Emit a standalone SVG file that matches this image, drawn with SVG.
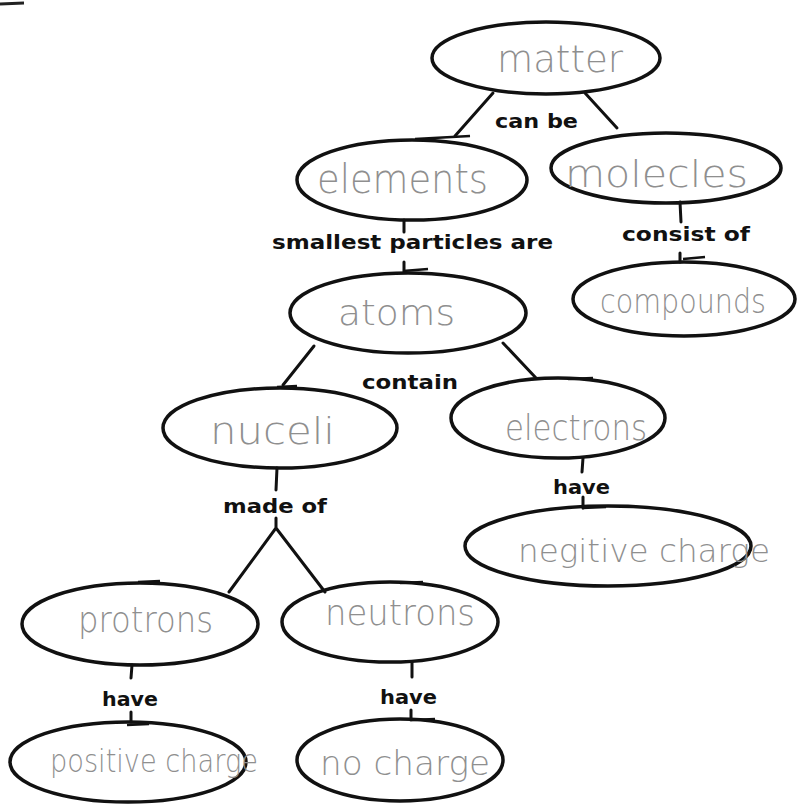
<svg xmlns="http://www.w3.org/2000/svg" width="800" height="805" viewBox="0 0 800 805">
<style>
.n{fill:none;stroke:#111;stroke-width:3.5}
.c{stroke:#111;stroke-width:3;fill:none;stroke-linecap:round}
.d{stroke:#111;stroke-width:2.5;fill:none}
.l{font-family:"DejaVu Sans",Verdana,sans-serif;font-weight:bold;font-size:20px;fill:#111}
.h{font-family:"DejaVu Sans","Liberation Sans",sans-serif;font-weight:200;fill:#8f8f8f}
</style>
<rect width="800" height="805" fill="#fff"/>
<path d="M0 4 L24 3" stroke="#222" stroke-width="3"/>
<g id="connectors">
<path class="c" d="M493 93 L455 136"/>
<path class="c" d="M585 93 L617 128"/>
<path class="c" d="M404 220 L404 232 M404 262 L404 272"/>
<path class="d" d="M403 271 L428 269"/>
<path class="d" d="M415 139 L470 136"/>
<path class="c" d="M680 202 L681 222 M680 253 L680 262"/>
<path class="d" d="M683 259 L705 257"/>
<path class="c" d="M314 346 L283 385"/>
<path class="d" d="M277 387 L297 386"/>
<path class="c" d="M503 343 L536 378"/>
<path class="d" d="M568 379 L593 378"/>
<path class="c" d="M277 468 L276 490 M276 518 L276 528 L229 592 M276 528 L325 592"/>
<path class="c" d="M583 458 L582 472 M583 497 L583 508"/>
<path class="d" d="M582 508 L606 507"/>
<path class="d" d="M138 582 L160 581"/>
<path class="d" d="M400 583 L423 582"/>
<path class="c" d="M132 665 L131 678 M131 712 L131 722"/>
<path class="d" d="M127 725 L149 724"/>
<path class="c" d="M412 662 L412 677 M411 710 L411 720"/>
<path class="d" d="M412 720 L435 719"/>
</g>
<g id="labels">
<text class="l" x="495" y="128" textLength="83" lengthAdjust="spacingAndGlyphs">can be</text>
<text class="l" x="272" y="249" textLength="281" lengthAdjust="spacingAndGlyphs">smallest particles are</text>
<text class="l" x="622" y="241" textLength="128" lengthAdjust="spacingAndGlyphs">consist of</text>
<text class="l" x="362" y="389" textLength="96" lengthAdjust="spacingAndGlyphs">contain</text>
<text class="l" x="223" y="513" textLength="104" lengthAdjust="spacingAndGlyphs">made of</text>
<text class="l" x="553" y="494" textLength="57" lengthAdjust="spacingAndGlyphs">have</text>
<text class="l" x="102" y="706" textLength="56" lengthAdjust="spacingAndGlyphs">have</text>
<text class="l" x="380" y="704" textLength="57" lengthAdjust="spacingAndGlyphs">have</text>
</g>
<g id="matter"><ellipse class="n" cx="546" cy="58" rx="114" ry="36"/><text class="h" x="497" y="72" font-size="38" textLength="126" lengthAdjust="spacingAndGlyphs">matter</text></g>
<g id="elements"><ellipse class="n" cx="412" cy="180" rx="115" ry="40"/><text class="h" x="317" y="193" font-size="40" textLength="171" lengthAdjust="spacingAndGlyphs">elements</text></g>
<g id="molecles"><ellipse class="n" cx="666" cy="168" rx="115" ry="35"/><text class="h" x="565" y="187" font-size="38" textLength="183" lengthAdjust="spacingAndGlyphs">molecles</text></g>
<g id="atoms"><ellipse class="n" cx="408" cy="313" rx="118" ry="40"/><text class="h" x="338" y="325" font-size="36" textLength="117" lengthAdjust="spacingAndGlyphs">atoms</text></g>
<g id="compounds"><ellipse class="n" cx="684" cy="299" rx="111" ry="37"/><text class="h" x="600" y="313" font-size="34" textLength="166" lengthAdjust="spacingAndGlyphs">compounds</text></g>
<g id="nuceli"><ellipse class="n" cx="280" cy="428" rx="117" ry="40"/><text class="h" x="210" y="444" font-size="38" textLength="125" lengthAdjust="spacingAndGlyphs">nuceli</text></g>
<g id="electrons"><ellipse class="n" cx="558" cy="418" rx="107" ry="40"/><text class="h" x="505" y="440" font-size="36" textLength="142" lengthAdjust="spacingAndGlyphs">electrons</text></g>
<g id="negitive-charge"><ellipse class="n" cx="608" cy="546" rx="143" ry="40"/><text class="h" x="518" y="562" font-size="32" textLength="252" lengthAdjust="spacingAndGlyphs">negitive charge</text></g>
<g id="protrons"><ellipse class="n" cx="140" cy="624" rx="118" ry="41"/><text class="h" x="78" y="632" font-size="36" textLength="135" lengthAdjust="spacingAndGlyphs">protrons</text></g>
<g id="neutrons"><ellipse class="n" cx="390" cy="622" rx="108" ry="40"/><text class="h" x="325" y="625" font-size="36" textLength="150" lengthAdjust="spacingAndGlyphs">neutrons</text></g>
<g id="positive-charge"><ellipse class="n" cx="128" cy="762" rx="118" ry="40"/><text class="h" x="50" y="772" font-size="32" textLength="208" lengthAdjust="spacingAndGlyphs">positive charge</text></g>
<g id="no-charge"><ellipse class="n" cx="400" cy="760" rx="103" ry="41"/><text class="h" x="320" y="775" font-size="34" textLength="170" lengthAdjust="spacingAndGlyphs">no charge</text></g>
</svg>
